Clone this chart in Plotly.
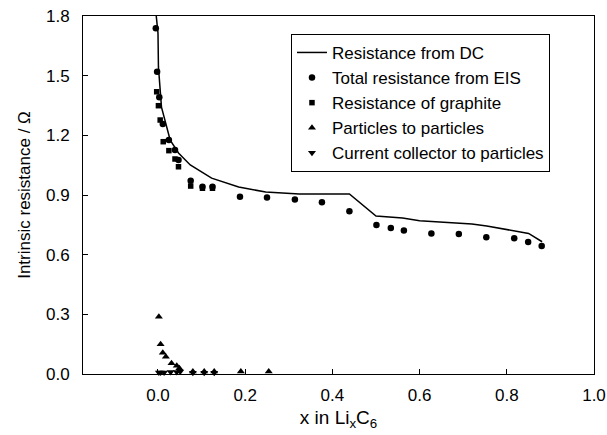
import plotly.graph_objects as go

# Resistance from DC (line)
dc_x = [-0.004, 0.000, 0.001, 0.008, 0.028, 0.047, 0.074, 0.123, 0.185, 0.247, 0.324, 0.439,
        0.500, 0.561, 0.600, 0.720, 0.754, 0.850, 0.881]
dc_y = [1.800, 1.714, 1.544, 1.342, 1.176, 1.111, 1.051, 0.985, 0.940, 0.915, 0.905, 0.905,
        0.794, 0.784, 0.771, 0.754, 0.744, 0.707, 0.665]

# Total resistance from EIS (circles)
eis_x = [-0.005, -0.002, 0.003, 0.011, 0.025, 0.039, 0.047, 0.075, 0.102, 0.125, 0.188, 0.250,
         0.314, 0.376, 0.439, 0.501, 0.534, 0.564, 0.627, 0.690, 0.753, 0.817, 0.849, 0.880]
eis_y = [1.738, 1.520, 1.391, 1.257, 1.176, 1.126, 1.076, 0.972, 0.942, 0.942, 0.891, 0.888,
         0.878, 0.863, 0.818, 0.749, 0.734, 0.721, 0.707, 0.704, 0.687, 0.682, 0.664, 0.644]

# Resistance of graphite (squares)
gr_x = [-0.003, 0.001, 0.005, 0.012, 0.025, 0.039, 0.047, 0.075, 0.102, 0.125]
gr_y = [1.419, 1.349, 1.277, 1.168, 1.123, 1.081, 1.042, 0.945, 0.934, 0.934]

# Particles to particles (up triangles)
pp_x = [0.002, 0.006, 0.011, 0.018, 0.031, 0.043, 0.049, 0.080, 0.106, 0.129, 0.190, 0.254]
pp_y = [0.288, 0.149, 0.107, 0.087, 0.054, 0.042, 0.029, 0.012, 0.012, 0.012, 0.012, 0.012]

# Current collector to particles (down triangles)
cc_x = [0.002, 0.006, 0.014, 0.029, 0.043, 0.051, 0.080, 0.106, 0.129]
cc_y = [0.008, 0.008, 0.008, 0.010, 0.010, 0.012, 0.006, 0.006, 0.006]

x_ticks = [0.0, 0.2, 0.4, 0.6, 0.8, 1.0]
y_ticks = [0.0, 0.3, 0.6, 0.9, 1.2, 1.5, 1.8]

FONT = "Liberation Sans, Arial, sans-serif"

fig = go.Figure()
fig.add_trace(go.Scatter(x=dc_x, y=dc_y, mode="lines", name="Resistance from DC",
                         line=dict(color="black", width=1.5), cliponaxis=True))
fig.add_trace(go.Scatter(x=eis_x, y=eis_y, mode="markers", name="Total resistance from EIS",
                         marker=dict(symbol="circle", size=6.5, color="black"), cliponaxis=False))
fig.add_trace(go.Scatter(x=gr_x, y=gr_y, mode="markers", name="Resistance of graphite",
                         marker=dict(symbol="square", size=5.5, color="black"), cliponaxis=False))
fig.add_trace(go.Scatter(x=pp_x, y=pp_y, mode="markers", name="Particles to particles",
                         marker=dict(symbol="triangle-up", size=7, color="black"), cliponaxis=False))
fig.add_trace(go.Scatter(x=cc_x, y=cc_y, mode="markers", name="Current collector to particles",
                         marker=dict(symbol="triangle-down", size=7, color="black"), cliponaxis=False))

fig.update_layout(
    width=607, height=435,
    margin=dict(l=83, r=13, t=16, b=61, autoexpand=False),
    paper_bgcolor="white", plot_bgcolor="white",
    font=dict(family=FONT, color="black", size=17),
    showlegend=True,
    legend=dict(x=0.407, y=0.95, xanchor="left", yanchor="top",
                bordercolor="black", borderwidth=1, bgcolor="white",
                font=dict(family=FONT, size=17, color="black"),
                tracegroupgap=0),
    xaxis=dict(range=[-0.172, 1.0], tickvals=x_ticks, tickformat=".1f",
               ticks="inside", ticklen=5, tickcolor="black", tickwidth=1,
               showline=True, linecolor="black", linewidth=1, mirror=True,
               showgrid=False, zeroline=False, automargin=False,
               ticklabelstandoff=6,
               tickfont=dict(size=17),
               title=dict(text="x in Li<sub>x</sub>C<sub>6</sub>", font=dict(size=19), standoff=6)),
    yaxis=dict(range=[0, 1.8], tickvals=y_ticks, tickformat=".1f",
               ticks="inside", ticklen=5, tickcolor="black", tickwidth=1,
               showline=True, linecolor="black", linewidth=1, mirror=True,
               showgrid=False, zeroline=False, automargin=False,
               ticklabelstandoff=9,
               tickfont=dict(size=17),
               title=dict(text="Intrinsic resistance / Ω", font=dict(size=17), standoff=11)),
)

fig.write_html("out.html")
